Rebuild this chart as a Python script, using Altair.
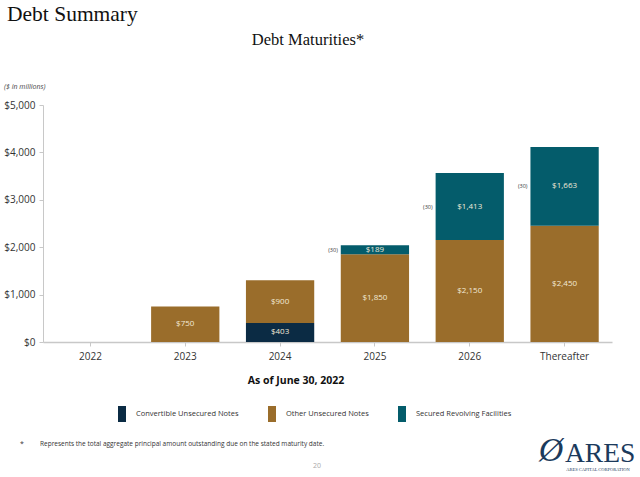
import altair as alt
import pandas as pd

years = ["2022", "2023", "2024", "2025", "2026", "Thereafter"]
convertible = [0, 0, 403, 0, 0, 0]
other = [0, 750, 900, 1850, 2150, 2450]
secured = [0, 0, 0, 189, 1413, 1663]
secured_notes = ["", "", "", "(30)", "(30)", "(30)"]
categories = ["Convertible Unsecured Notes", "Other Unsecured Notes", "Secured Revolving Facilities"]
colors = ["#0b2b44", "#9a6d2b", "#045c6b"]
y_ticks = [0, 1000, 2000, 3000, 4000, 5000]

rows = []
for i, yr in enumerate(years):
    for k, (cat, vals) in enumerate(zip(categories, [convertible, other, secured])):
        rows.append({"year": yr, "category": cat, "order": k, "value": vals[i],
                     "note": secured_notes[i] if k == 2 else ""})
df = pd.DataFrame(rows)

SANS = "Open Sans"
SERIF = "Liberation Serif"

base = alt.Chart(df).transform_stack(
    stack="value", groupby=["year"], as_=["v0", "v1"], sort=[alt.SortField("order")]
).transform_calculate(
    mid="(datum.v0 + datum.v1) / 2",
    label='"$" + format(datum.value, ",")'
)

xenc = alt.X("year:N", sort=years,
             scale=alt.Scale(paddingInner=0.28, paddingOuter=0.14),
             axis=alt.Axis(title=None, labelAngle=0, tickSize=4, tickColor="#c8c8c8",
                           domainColor="#c8c8c8", domainWidth=1.5, labelFontSize=10,
                           labelColor="#333333", labelPadding=5, labelFont=SANS))

bars = base.mark_bar().encode(
    x=xenc,
    y=alt.Y("v0:Q", scale=alt.Scale(domain=[0, 5000]),
            axis=alt.Axis(title=None, values=y_ticks, grid=False,
                          labelExpr='"$" + format(datum.value, ",")',
                          domainColor="#c8c8c8", tickColor="#c8c8c8", tickSize=4,
                          labelFontSize=10, labelColor="#333333", labelPadding=4,
                          labelFont=SANS)),
    y2="v1:Q",
    color=alt.Color("category:N", scale=alt.Scale(domain=categories, range=colors),
                    legend=alt.Legend(orient="none", legendX=71, legendY=301,
                                      direction="horizontal", title=None,
                                      symbolType="M-0.5,-1H0.5V1H-0.5Z", symbolSize=256,
                                      symbolStrokeWidth=0, symbolOpacity=1,
                                      labelFontSize=7.5, labelColor="#333333",
                                      labelFont=SANS, columnPadding=25, labelOffset=6)),
)

labels = base.transform_filter("datum.value > 0").mark_text(
    color="#f3ead8", fontSize=8, font=SANS
).encode(x=alt.X("year:N", sort=years), y="mid:Q", text="label:N")

notes = base.transform_filter("datum.note != ''").mark_text(
    align="right", dx=-3, fontSize=5.5, color="#333333", font=SANS
).encode(x=alt.X("year:N", sort=years, bandPosition=0), y="mid:Q", text="note:N")


def txt(s, x, y, size, font=SANS, align="left", color="#222222", weight="normal",
        style="normal"):
    return alt.Chart(alt.Data(values=[{}])).mark_text(
        align=align, baseline="alphabetic", fontSize=size, font=font, color=color,
        fontWeight=weight, fontStyle=style
    ).encode(x=alt.value(x), y=alt.value(y), text=alt.value(s))


texts = [
    txt("Debt Summary", -36, -84, 21.5, font=SERIF, color="#111111"),
    txt("Debt Maturities*", 265, -60, 16.5, font=SERIF, align="center", color="#111111"),
    txt("($ in millions)", -39, -16, 7, style="italic", color="#444444"),
    txt("As of June 30, 2022", 253, 279, 10.5, align="center", weight="bold", color="#111111"),
    txt("*", -23, 341, 7, color="#333333"),
    txt("Represents the total aggregate principal amount outstanding due on the stated maturity date.",
        -3, 341, 6.5, color="#333333"),
    txt("20", 274, 363, 7, align="center", color="#aaaaaa"),
    txt("Ø", 508, 356, 34, font=SERIF, align="center", color="#1b3a5c", style="italic"),
    txt("ARES", 522, 357, 27.5, font=SERIF, color="#1b3a5c"),
    txt("ARES CAPITAL CORPORATION", 555, 366, 4.5, font=SERIF, align="center", color="#1b3a5c"),
]

chart = alt.layer(bars, labels, notes, *texts).properties(
    width=569, height=237,
    autosize=alt.AutoSizeParams(type="none"),
    padding={"left": 43, "top": 105, "right": 28, "bottom": 135},
    background="white",
).configure_view(stroke=None)

chart.save("out.html", embed_options={"renderer": "svg", "actions": False})
